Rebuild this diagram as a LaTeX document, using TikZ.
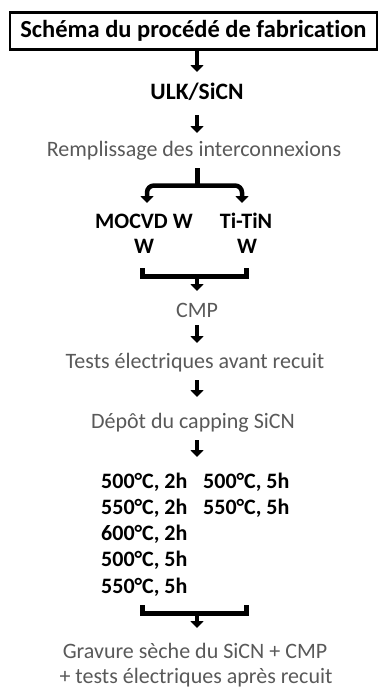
\documentclass[tikz,border=0pt]{standalone}
\usepackage{fontspec}
\setmainfont[Ligatures=NoCommon]{Carlito}
\usetikzlibrary{arrows.meta}
\definecolor{gristexte}{HTML}{595959}
\tikzset{
  etape/.style={anchor=base, inner sep=0pt, text=gristexte, font=\fontsize{22}{26}\selectfont},
  materiau/.style={anchor=base, inner sep=0pt, font=\bfseries\fontsize{22}{26}\selectfont},
  fleche/.style={line width=4.5pt, -{Triangle[width=13pt,length=7pt]}},
  barre/.style={line width=5pt, line join=miter}
}
\begin{document}
\begin{tikzpicture}[x=1pt, y=-1pt]
        \useasboundingbox (0,0) rectangle (380,688);

        % Titre
        \node[draw, line width=2.5pt, minimum width=367pt, minimum height=37pt, inner sep=0pt,
              font=\bfseries\fontsize{24.5}{28}\selectfont] (titre) at (193.5,31) {Schéma du procédé de fabrication};

        % Etapes
        \node[materiau, font=\bfseries\fontsize{23.5}{26}\selectfont] (ulk) at (197,99) {ULK/SiCN};
        \node[etape] (remp) at (194,156) {Remplissage des interconnexions};
        \node[materiau] (mocvd) at (144,228) {MOCVD W};
        \node[materiau] (mocvdw) at (144,253) {W};
        \node[materiau] (titin) at (246,228) {Ti-TiN};
        \node[materiau] (titinw) at (247,253) {W};
        \node[etape] (cmp) at (197,317) {CMP};
        \node[etape] (tests) at (195,368) {Tests électriques avant recuit};
        \node[etape] (depot) at (193,428) {Dépôt du capping SiCN};

        % Recuits
        \foreach \t [count=\i] in {{500°C, 2h}, {550°C, 2h}, {600°C, 2h}, {500°C, 5h}, {550°C, 5h}}
          \node[materiau, anchor=base west] (g\i) at (101,{488+26.3*(\i-1)}) {\t};
        \node[materiau, anchor=base west] (d1) at (203,488) {500°C, 5h};
        \node[materiau, anchor=base west] (d2) at (203,514.3) {550°C, 5h};

        \node[etape] (grav) at (195,658) {Gravure sèche du SiCN + CMP};
        \node[etape] (grav2) at (196,683) {+ tests électriques après recuit};

        % Fleches
        \draw[fleche] (titre.south -| ulk) ++(0,-1) -- (197,72);
        \draw[fleche] (197,115) -- (197,133);
        \draw[fleche] (197,325) -- (197,343);
        \draw[fleche] (197,380) -- (197,397);
        \draw[fleche] (197,440) -- (197,457);

        % Separation
        \coordinate (sep) at (197,185.5);
        \draw[barre] (197,168) -- (sep);
        \draw[fleche, rounded corners=7pt] (sep) -- (147,185.5) -- (147,203);
        \draw[fleche, rounded corners=7pt] (sep) -- (242,185.5) -- (242,203);

        % Regroupements
        \coordinate (jonc1) at (197,276);
        \draw[barre] (142,268) -- (142,276) -- (246,276) -- (246,268);
        \draw[fleche] (jonc1) -- (197,291);

        \coordinate (jonc2) at (197,613);
        \draw[barre] (142,605) -- (142,613) -- (246,613) -- (246,605);
        \draw[fleche] (jonc2) -- (197,628);
\end{tikzpicture}
\end{document}
